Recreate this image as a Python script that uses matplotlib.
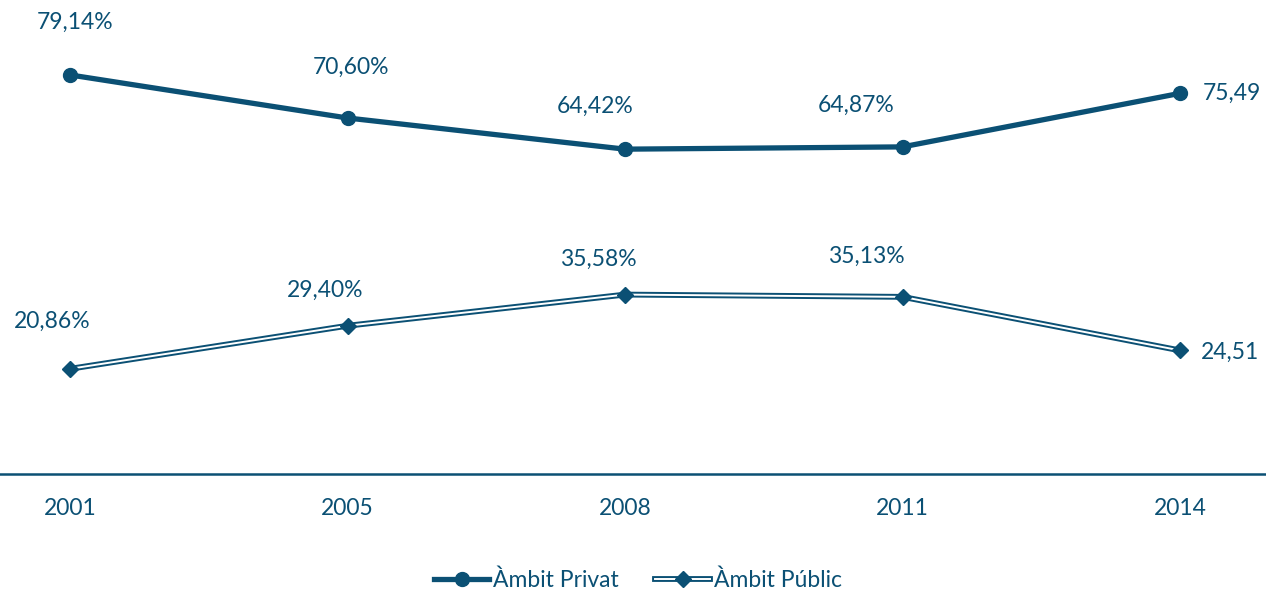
import matplotlib
matplotlib.use("Agg")
import matplotlib.pyplot as plt
from matplotlib.lines import Line2D
from matplotlib.legend_handler import HandlerTuple

years = ["2001", "2005", "2008", "2011", "2014"]
privat = [79.14, 70.60, 64.42, 64.87, 75.49]
public = [20.86, 29.40, 35.58, 35.13, 24.51]
privat_labels = ["79,14%", "70,60%", "64,42%", "64,87%", "75,49"]
public_labels = ["20,86%", "29,40%", "35,58%", "35,13%", "24,51"]

C = "#0B5074"
plt.rcParams['font.family'] = ['Lato', 'DejaVu Sans']

fig = plt.figure(figsize=(12.66, 5.91), dpi=100)
ax = fig.add_axes([0, 1 - 474 / 591, 1, 474 / 591])
x = list(range(len(years)))

ax.plot(x, privat, color=C, lw=3.8, marker='o', ms=10, solid_capstyle='round', zorder=3)
ax.plot(x, public, color=C, lw=4.2, zorder=3)
ax.plot(x, public, color='white', lw=1.4, zorder=4)
ax.plot(x, public, color=C, lw=0, marker='D', ms=8, zorder=5)

fs = 16.5
# label offsets in pixels (dx, dy)
poff = [(5, 53), (3, 51), (-30, 43), (-46, 42), (0, 0)]
qoff = [(-18, 47), (-22, 35), (-27, 35), (-36, 41), (0, 0)]
for i in range(len(years)):
    if i == len(years) - 1:
        ax.annotate(privat_labels[i], (x[i], privat[i]), xytext=(23, 0), textcoords='offset pixels',
                    ha='left', va='center', fontsize=fs, color=C)
        ax.annotate(public_labels[i], (x[i], public[i]), xytext=(21, -2), textcoords='offset pixels',
                    ha='left', va='center', fontsize=fs, color=C)
    else:
        dx, dy = poff[i]
        ax.annotate(privat_labels[i], (x[i], privat[i]), xytext=(dx, dy), textcoords='offset pixels',
                    ha='center', va='center', fontsize=fs, color=C)
        dx, dy = qoff[i]
        ax.annotate(public_labels[i], (x[i], public[i]), xytext=(dx, dy), textcoords='offset pixels',
                    ha='center', va='center', fontsize=fs, color=C)

ax.set_xlim(-70 / 277.5, 4 + 86 / 277.5)
ax.set_ylim(0, 94)
for s in ['top', 'right', 'left']:
    ax.spines[s].set_visible(False)
ax.spines['bottom'].set_color(C)
ax.spines['bottom'].set_linewidth(1.8)
ax.set_yticks([])
ax.set_xticks(x)
ax.set_xticklabels(years, fontsize=fs, color=C)
ax.tick_params(axis='x', length=0, pad=17)

h1 = Line2D([], [], color=C, lw=3.8, marker='o', ms=10)
h2a = Line2D([], [], color=C, lw=4.2)
h2b = Line2D([], [], color='white', lw=1.4)
h2c = Line2D([], [], color=C, lw=0, marker='D', ms=8)
leg = fig.legend([h1, (h2a, h2b, h2c)], ["Àmbit Privat", "Àmbit Públic"],
                 handler_map={tuple: HandlerTuple(ndivide=1, pad=0)},
                 loc='center', bbox_to_anchor=(0.504, 1 - 580 / 591), ncol=2, frameon=False,
                 fontsize=fs, handlelength=2.4, handletextpad=0.15, columnspacing=1.6)
for t in leg.get_texts():
    t.set_color(C)

fig.savefig("out.png", dpi=100)
